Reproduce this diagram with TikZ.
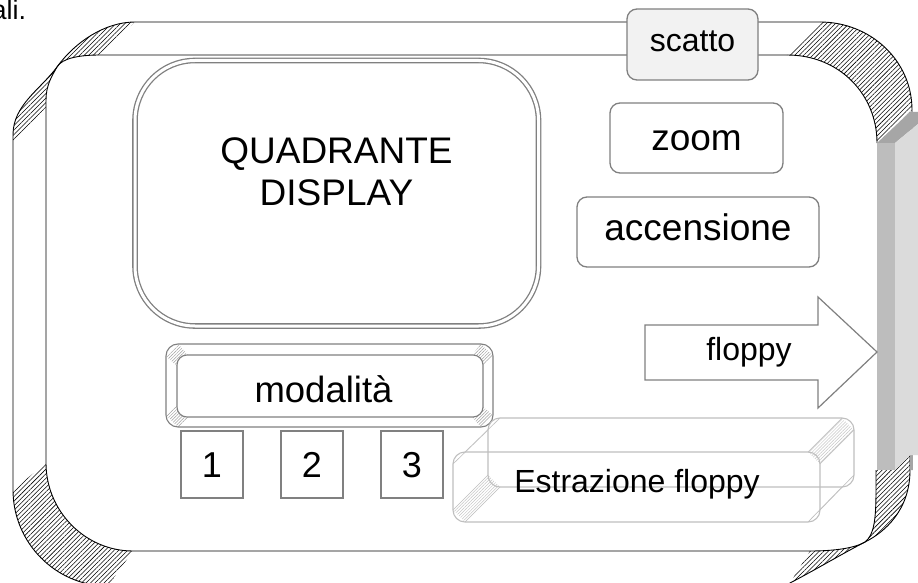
\documentclass[tikz,border=0pt]{standalone}
\usepackage{fontspec}
\setmainfont{Liberation Sans}
\usetikzlibrary{patterns.meta}
\begin{document}
\begin{tikzpicture}[x=1pt,y=-1pt,
  frameline/.style={draw=black,line width=0.9pt},
  blkhatch/.style={pattern={Lines[angle=45,distance=3.2pt,line width=0.55pt]},pattern color=black},
  greyhatch/.style={pattern={Lines[angle=45,distance=2.2pt,line width=0.5pt]},pattern color=gray!75},
  lighthatch/.style={pattern={Lines[angle=45,distance=2.2pt,line width=0.5pt]},pattern color=gray!45},
  greybox/.style={draw=gray,line width=1.3pt,rounded corners=10pt,fill=white,inner sep=0pt,outer sep=0pt,text depth=0pt},
  sqbox/.style={draw=gray,line width=1.3pt,fill=white,inner sep=0pt,minimum width=62pt,minimum height=67pt,text height=25pt,text depth=0pt,font=\fontsize{36}{40}\selectfont},
  lbl/.style={inner sep=0pt,anchor=base},
  fontbig/.style={font=\fontsize{37}{42}\selectfont},
  fontmed/.style={font=\fontsize{32}{36}\selectfont},
  boxline/.style={draw=gray!50,line width=1.1pt},
  bevline/.style={draw=gray,line width=1.1pt}
]
\useasboundingbox (0,0) rectangle (918,583);
\clip (0,0) rectangle (918,583);
\fill[white] (0,0) rectangle (918,583);

% previous text, cut off at the page edge as in the reference
\node[inner sep=0pt,anchor=base west,font=\fontsize{27}{30}\selectfont] (prevtxt) at (-8.5,19.5) {ali.};

% ---------- outer frame: hatched bevel corners ----------
\path[blkhatch] (135,22) .. controls (105,22) and (75,42) .. (57,67)
   .. controls (40,90) and (13,105) .. (13,135) -- (13,143) -- (46,107) -- (46,100)
   .. controls (46,85) and (52,76) .. (57,67) .. controls (62,58) and (80,55) .. (100,55) -- cycle;
\path[blkhatch] (820,22) .. controls (870,22) and (912,60) .. (912,110) -- (877,143)
   .. controls (877,95) and (840,55) .. (787,55) -- cycle;
\path[blkhatch] (13,490) -- (46,463) .. controls (46,511) and (85,551) .. (133,551)
   -- (108,586) .. controls (55.5,586) and (13,542.5) .. (13,490) -- cycle;
\path[blkhatch] (876,470) -- (895,470) -- (910,455) -- (910,470)
   .. controls (910,510) and (885,532) .. (865,542) .. controls (840,555) and (815,570) .. (790,583)
   -- (810,551) .. controls (835,551) and (855,548) .. (865,542)
   .. controls (874,535) and (876,520) .. (876,490) -- cycle;

% outer outline
\draw[frameline] (820,22) -- (135,22) .. controls (105,22) and (75,42) .. (57,67)
   .. controls (40,90) and (13,105) .. (13,135) -- (13,490)
   .. controls (13,542.5) and (55.5,586) .. (108,586);
\draw[frameline] (820,22) .. controls (870,22) and (912,60) .. (912,110) -- (912,470);
\draw[frameline] (910,455) -- (910,470) .. controls (910,510) and (885,532) .. (865,542)
   .. controls (840,555) and (815,570) .. (790,583) -- (770,595);
% inner outline
\draw[frameline] (787,55) -- (100,55) .. controls (80,55) and (62,58) .. (57,67)
   .. controls (52,76) and (46,85) .. (46,100) -- (46,463)
   .. controls (46,511) and (85,551) .. (133,551) -- (810,551)
   .. controls (835,551) and (855,548) .. (865,542)
   .. controls (874,535) and (876,520) .. (876,490) -- (876,470);
\draw[frameline] (787,55) .. controls (840,55) and (877,95) .. (877,143);

% ---------- grey side bar ----------
\fill[black!35] (877,143) -- (910,112) -- (918,112) -- (918,124) -- (895,143) -- cycle;
\fill[black!26] (877,143) rectangle (895,470);
\fill[black!14] (895,143) -- (918,124) -- (918,455) -- (910,455) -- (895,470) -- cycle;

% ---------- scatto ----------
\node[greybox,fill=black!5,minimum width=131pt,minimum height=71pt,text height=15pt,fontmed] (scatto) at (692.5,44.5) {scatto};

% ---------- display ----------
\node[draw=gray,line width=1.3pt,double=white,double distance=3pt,rounded corners=60pt,
      minimum width=403.5pt,minimum height=265.5pt,inner sep=0pt] (quad) at (336.75,193.25) {};
\node[lbl,fontbig] (quadA) at (336.5,163) {QUADRANTE};
\node[lbl,fontbig] (quadB) at (336.5,205) {DISPLAY};

% ---------- zoom / accensione ----------
\node[greybox,minimum width=173pt,minimum height=70pt,text height=24pt,fontbig] (zoom) at (696.5,138) {zoom};
\node[greybox,minimum width=242pt,minimum height=70pt,text height=16pt,fontbig] (acc) at (698,232) {accensione};

% ---------- floppy arrow ----------
\draw[draw=gray,line width=1.2pt,fill=white,line join=miter]
   (645,325) -- (818,325) -- (818,297) -- (877,352) -- (818,408) -- (818,380) -- (645,380) -- cycle;
\node[lbl,fontmed] (floppy) at (749,360) {floppy};

% ---------- modalita bevel ----------
\fill[white,rounded corners=12pt] (166,344) rectangle (493,427);
\path[greyhatch] (166,356) -- (178,344) -- (188,355) -- (177,366) -- cycle;
\path[greyhatch] (481,344) -- (493,356) -- (483,366) -- (472,355) -- cycle;
\path[greyhatch] (493,415) -- (481,427) -- (472,417) -- (483,407) -- cycle;
\path[greyhatch] (178,427) -- (166,415) -- (177,406) -- (188,417) -- cycle;
\draw[bevline,rounded corners=12pt] (166,344) rectangle (493,427);
\draw[bevline,fill=white,rounded corners=10pt] (177,355) rectangle (483,417);
\node[lbl,font=\fontsize{36.5}{40}\selectfont] (mod) at (323.5,402) {modalità};

% ---------- number keys ----------
\node[sqbox] (k1) at (212,464.5) {1};
\node[sqbox] (k2) at (312,464.5) {2};
\node[sqbox] (k3) at (412,464.5) {3};

% ---------- Estrazione floppy 3D box ----------
\path[lighthatch] (453,464) -- (488,430) -- (500,418) -- (465,452) -- cycle;
\path[lighthatch] (808,452) -- (842,418) -- (854,430) -- (820,464) -- cycle;
\path[lighthatch] (808,522) -- (842,487) -- (854,475) -- (820,510) -- cycle;
\path[lighthatch] (453,510) -- (488,475) -- (500,487) -- (465,522) -- cycle;
\draw[boxline,rounded corners=12pt] (488,418) rectangle (854,487);
\draw[boxline,rounded corners=12pt] (453,452) rectangle (820,522);
\draw[boxline,line width=0.6pt] (453,464) -- (488,430) (465,452) -- (500,418)
   (808,452) -- (842,418) (820,464) -- (854,430)
   (808,522) -- (842,487) (820,510) -- (854,475)
   (453,510) -- (488,475) (465,522) -- (500,487);
\node[lbl,fontmed] (estr) at (637,492) {Estrazione floppy};
\end{tikzpicture}
\end{document}
